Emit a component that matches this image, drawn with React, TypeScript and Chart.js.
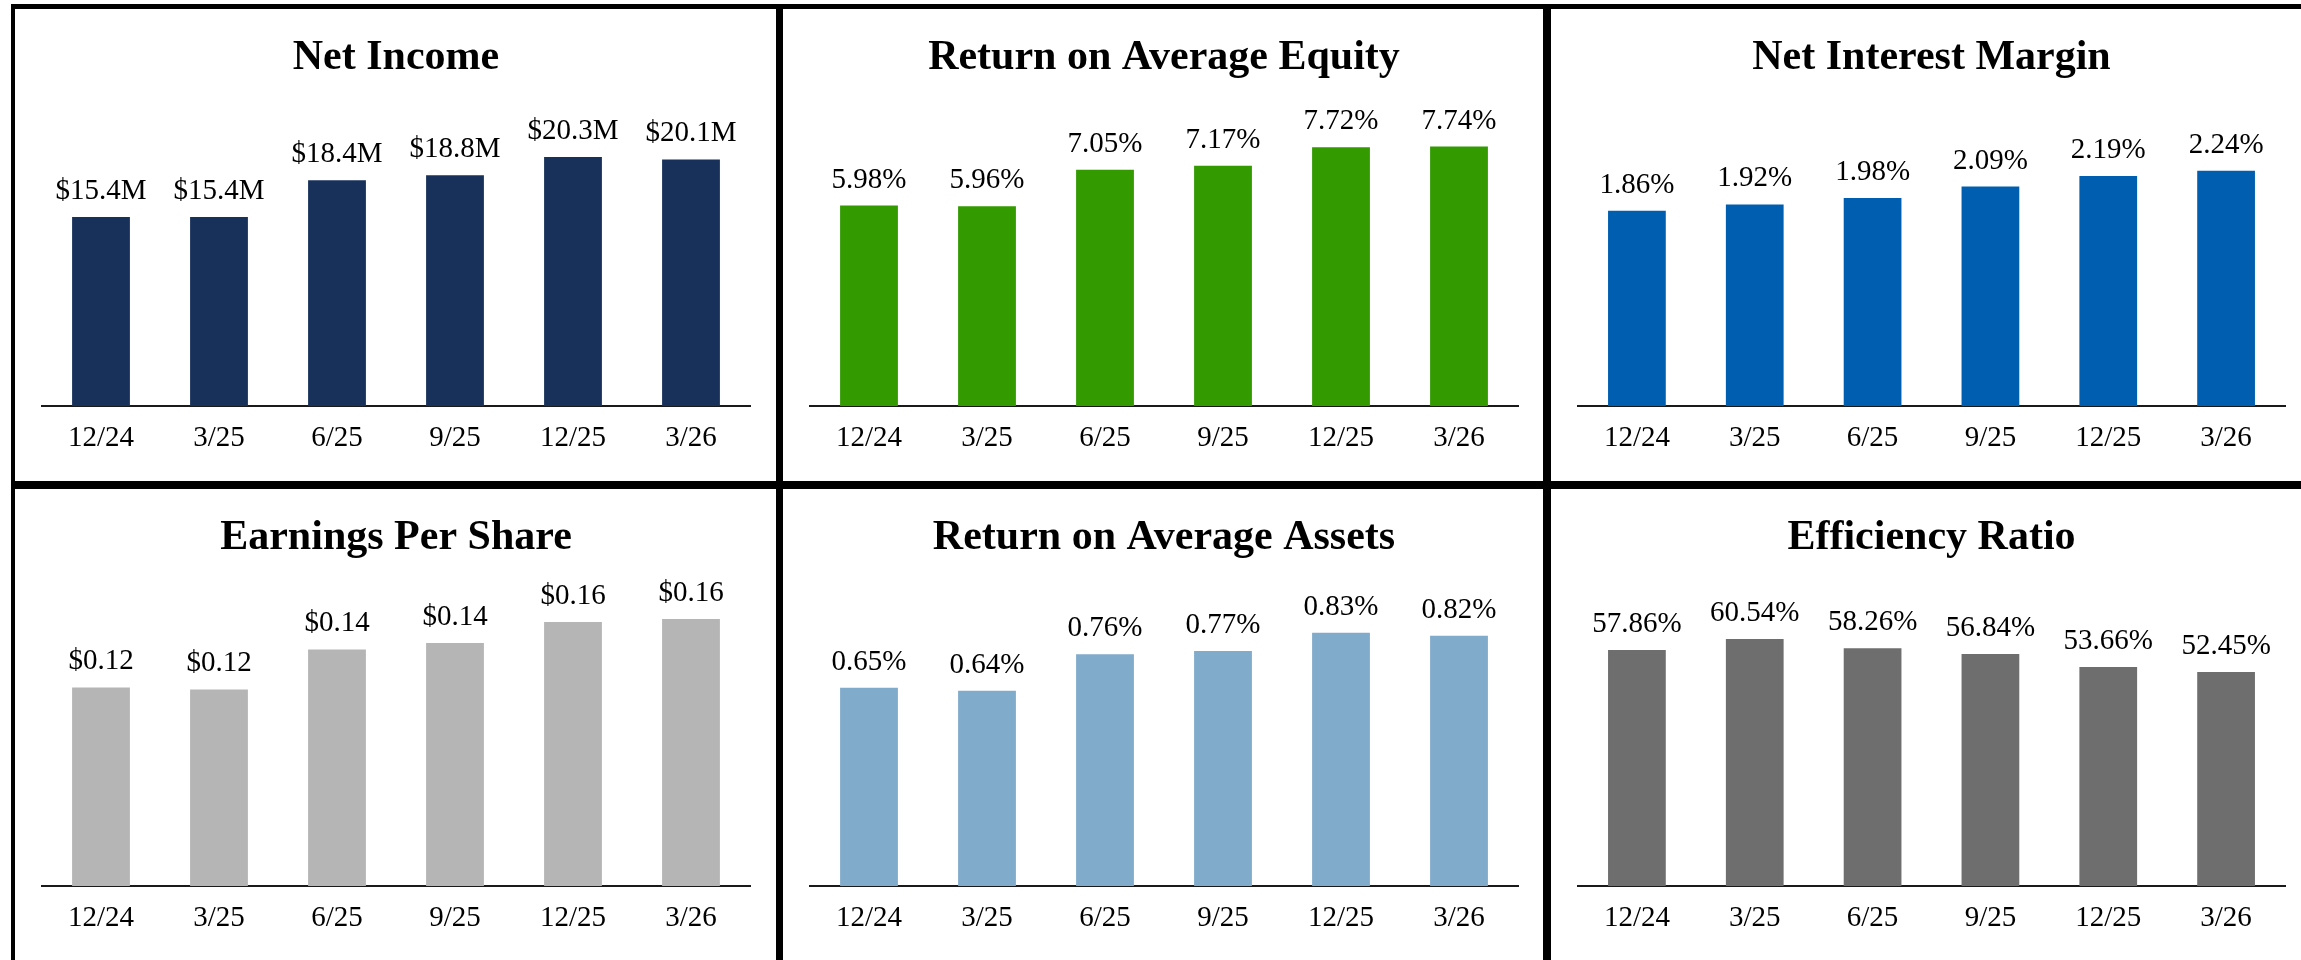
import React, { useEffect, useRef } from 'react';
import { Chart, registerables } from 'chart.js';

Chart.register(...registerables);

const quarters = ['12/24', '3/25', '6/25', '9/25', '12/25', '3/26'];

const netIncome = [15.4, 15.4, 18.4, 18.8, 20.3, 20.1];
const returnOnAvgEquity = [5.98, 5.96, 7.05, 7.17, 7.72, 7.74];
const netInterestMargin = [1.86, 1.92, 1.98, 2.09, 2.19, 2.24];
const earningsPerShare = [0.1175, 0.1163, 0.14, 0.1438, 0.1562, 0.158];
const returnOnAvgAssets = [0.65, 0.64, 0.76, 0.77, 0.83, 0.82];
const efficiencyRatio = [57.86, 60.54, 58.26, 56.84, 53.66, 52.45];

const SERIF = '"Liberation Serif", "Times New Roman", Times, serif';

type Panel = {
  title: string;
  values: number[];
  color: string;
  max: number;
  format: (v: number) => string;
  col: number;
  row: number;
};

const panels: Panel[] = [
  { title: 'Net Income', values: netIncome, color: '#17315A', max: 24.94, format: (v) => '$' + v.toFixed(1) + 'M', col: 0, row: 0 },
  { title: 'Return on Average Equity', values: returnOnAvgEquity, color: '#339A00', max: 9.13, format: (v) => v.toFixed(2) + '%', col: 1, row: 0 },
  { title: 'Net Interest Margin', values: netInterestMargin, color: '#005EB0', max: 2.914, format: (v) => v.toFixed(2) + '%', col: 2, row: 0 },
  { title: 'Earnings Per Share', values: earningsPerShare, color: '#B5B5B5', max: 0.1811, format: (v) => '$' + v.toFixed(2), col: 0, row: 1 },
  { title: 'Return on Average Assets', values: returnOnAvgAssets, color: '#80ABCB', max: 1.003, format: (v) => v.toFixed(2) + '%', col: 1, row: 1 },
  { title: 'Efficiency Ratio', values: efficiencyRatio, color: '#6E6E6E', max: 75.0, format: (v) => v.toFixed(2) + '%', col: 2, row: 1 },
];

const colCanvasLeft = [15, 783, 1551];
const colCanvasWidth = [761, 760, 760];
const colChartLeft = [42, 810, 1578];
const colChartRight = [750, 1518, 2285];
const rowCanvasTop = [9, 489];
const CANVAS_H = 472;

function makeLabelPlugin(format: (v: number) => string) {
  return {
    id: 'valueLabels',
    afterDatasetsDraw(chart: any) {
      const ctx = chart.ctx;
      const meta = chart.getDatasetMeta(0);
      const data = chart.data.datasets[0].data as number[];
      ctx.save();
      ctx.font = '29px ' + SERIF;
      ctx.fillStyle = '#000000';
      ctx.textAlign = 'center';
      ctx.textBaseline = 'alphabetic';
      meta.data.forEach((el: any, i: number) => {
        ctx.fillText(format(data[i]), el.x, el.y - 18);
      });
      ctx.restore();
    },
  };
}

function PanelChart({ panel }: { panel: Panel }) {
  const ref = useRef<HTMLCanvasElement | null>(null);
  const left = colCanvasLeft[panel.col];
  const width = colCanvasWidth[panel.col];
  const top = rowCanvasTop[panel.row];
  const padL = colChartLeft[panel.col] - left;
  const padR = left + width - colChartRight[panel.col];

  useEffect(() => {
    if (!ref.current) return;
    const chart = new Chart(ref.current, {
      type: 'bar',
      data: {
        labels: quarters,
        datasets: [
          {
            data: panel.values,
            backgroundColor: panel.color,
            borderWidth: 0,
            categoryPercentage: 1,
            barPercentage: 0.49,
          },
        ],
      },
      options: {
        responsive: false,
        animation: false,
        devicePixelRatio: 1,
        layout: { padding: { left: padL, right: padR, top: 0, bottom: 0 } },
        plugins: {
          legend: { display: false },
          tooltip: { enabled: false },
          title: {
            display: true,
            text: panel.title,
            color: '#000000',
            font: { family: SERIF, size: 42, weight: 'bold', lineHeight: 1 },
            padding: { top: 28, bottom: 21 },
          },
        },
        scales: {
          x: {
            grid: { display: false, drawTicks: false },
            border: { display: true, color: '#1a1a1a', width: 2 },
            ticks: {
              color: '#000000',
              font: { family: SERIF, size: 29, lineHeight: 1 },
              padding: 17.6,
              maxRotation: 0,
              autoSkip: false,
            },
            afterFit: (s: any) => {
              s.height = 75;
            },
          },
          y: { display: false, min: 0, max: panel.max },
        },
      },
      plugins: [makeLabelPlugin(panel.format)],
    } as any);
    return () => chart.destroy();
  }, [panel]);

  return (
    <canvas
      ref={ref}
      width={width}
      height={CANVAS_H}
      style={{ position: 'absolute', left, top, width, height: CANVAS_H, display: 'block' }}
    />
  );
}

export default function App() {
  const line = (l: number, t: number, w: number, h: number) => (
    <div style={{ position: 'absolute', left: l, top: t, width: w, height: h, background: '#000', zIndex: 2 }} />
  );
  return (
    <div
      style={{
        position: 'fixed',
        left: 0,
        top: 0,
        width: 2301,
        height: 960,
        overflow: 'hidden',
        background: '#ffffff',
      }}
    >
      {panels.map((p) => (
        <PanelChart key={p.title} panel={p} />
      ))}
      {line(11, 4, 2290, 5)}
      {line(11, 4, 4, 956)}
      {line(776, 4, 7, 956)}
      {line(1543, 4, 8, 956)}
      {line(11, 481, 2290, 8)}
    </div>
  );
}
